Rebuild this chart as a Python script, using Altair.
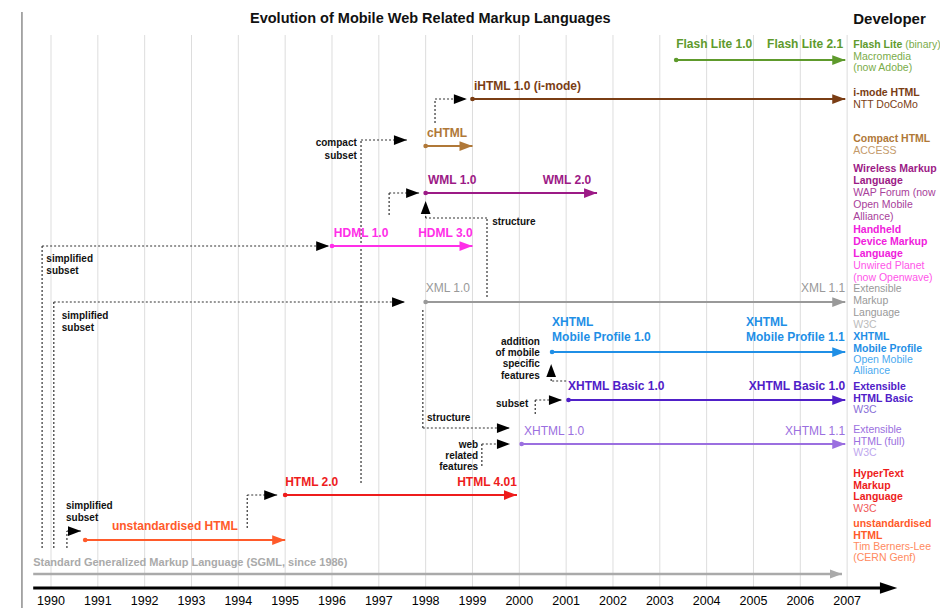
import altair as alt
import pandas as pd

FONT = "Liberation Sans"

# ---------------- data ----------------
YEARS = list(range(1990, 2008))

# main timelines: name, colour, lane, first year, last year (arrow tip), has start dot
SERIES_NAME = ["Flash Lite", "iHTML", "cHTML", "WML", "HDML", "XML", "XHTML MP",
               "XHTML Basic", "XHTML", "HTML", "unstandardised HTML", "SGML"]
SERIES_COLOR = ["#5e9a2c", "#7a3d14", "#b07838", "#9c1a86", "#ff2ee8", "#999999", "#1f8fe6",
                "#5020c8", "#9b6fe0", "#ee1c1c", "#ff5a2a", "#aaaaaa"]
SERIES_LANE = [60, 99, 146, 193, 246, 302, 352, 400, 444, 495, 540, 574]
SERIES_START = [2003.35, 1999.0, 1998.0, 1998.0, 1996.0, 1998.0, 2000.7, 2001.05, 2000.05,
                1995.0, 1990.73, 1989.62]
SERIES_END = [2006.96, 2006.96, 1999.0, 2001.66, 1999.0, 2006.96, 2006.96, 2006.96, 2006.96,
              1999.95, 1995.0, 2006.89]
SERIES_DOT = [True] * 11 + [False]

# version labels: text, year, lane, colour, bold, align
VERSION_LABELS = [
    ("Flash Lite 1.0", 2003.35, 44, "#5e9a2c", True, "left"),
    ("Flash Lite 2.1", 2005.29, 44, "#5e9a2c", True, "left"),
    ("iHTML 1.0 (i-mode)", 1999.03, 86, "#7a3d14", True, "left"),
    ("cHTML", 1998.03, 133, "#b07838", True, "left"),
    ("WML 1.0", 1998.05, 180, "#9c1a86", True, "left"),
    ("WML 2.0", 2000.5, 180, "#9c1a86", True, "left"),
    ("HDML 1.0", 1996.04, 233, "#ff2ee8", True, "left"),
    ("HDML 3.0", 1997.84, 233, "#ff2ee8", True, "left"),
    ("XML 1.0", 1998.0, 288, "#999999", False, "left"),
    ("XML 1.1", 2006.96, 288, "#999999", False, "right"),
    ("XHTML", 2000.7, 322, "#1f8fe6", True, "left"),
    ("Mobile Profile 1.0", 2000.7, 337, "#1f8fe6", True, "left"),
    ("XHTML", 2004.84, 322, "#1f8fe6", True, "left"),
    ("Mobile Profile 1.1", 2004.84, 337, "#1f8fe6", True, "left"),
    ("XHTML Basic 1.0", 2001.04, 386, "#5020c8", True, "left"),
    ("XHTML Basic 1.0", 2006.96, 386, "#5020c8", True, "right"),
    ("XHTML 1.0", 2000.1, 431, "#9b6fe0", False, "left"),
    ("XHTML 1.1", 2006.96, 431, "#9b6fe0", False, "right"),
    ("HTML 2.0", 1995.0, 482, "#ee1c1c", True, "left"),
    ("HTML 4.01", 1999.95, 482, "#ee1c1c", True, "right"),
    ("unstandardised HTML", 1991.3, 526, "#ff5a2a", True, "left"),
]
SGML_LABEL = ("Standard Generalized Markup Language (SGML, since 1986)", 1989.62, 563)

# dotted derivation connectors: (year, lane) -> (year2, lane2)
CONNECTORS = [
    (1989.81, 548, 1989.81, 246), (1989.81, 246, 1995.94, 246),
    (1990.06, 548, 1990.06, 302), (1990.06, 302, 1997.56, 302),
    (1990.34, 548, 1990.34, 531), (1990.34, 531, 1990.64, 531),
    (1994.19, 528, 1994.19, 495), (1994.19, 495, 1994.83, 495),
    (1996.62, 483, 1996.62, 140), (1996.62, 140, 1997.6, 140),
    (1998.2, 123, 1998.2, 99), (1998.2, 99, 1998.88, 99),
    (1997.22, 215, 1997.22, 193), (1997.22, 193, 1997.86, 193),
    (1999.31, 297, 1999.31, 218), (1999.31, 218, 1998.0, 218), (1998.0, 218, 1998.0, 205),
    (1997.94, 310, 1997.94, 428), (1997.94, 428, 1999.8, 428),
    (1999.2, 466, 1999.2, 444), (1999.2, 444, 1999.8, 444),
    (2000.34, 414, 2000.34, 400), (2000.34, 400, 2000.91, 400),
    (2001.0, 381, 2000.68, 381), (2000.68, 381, 2000.68, 368),
]
# connector arrow tips: year, lane, direction
CONNECTOR_TIPS = [
    (1995.94, 246, "right"), (1997.56, 302, "right"), (1990.64, 531, "right"),
    (1994.83, 495, "right"), (1997.6, 140, "right"), (1998.88, 99, "right"),
    (1997.86, 193, "right"), (1998.0, 201, "up"), (1999.8, 428, "right"),
    (1999.8, 444, "right"), (2000.91, 400, "right"), (2000.68, 364, "up"),
]
# connector annotations: text, year, lane, align
CONNECTOR_NOTES = [
    ("compact", 1996.53, 143, "right"), ("subset", 1996.53, 156, "right"),
    ("simplified", 1989.9, 259, "left"), ("subset", 1989.9, 271, "left"),
    ("simplified", 1990.23, 316, "left"), ("subset", 1990.23, 328, "left"),
    ("simplified", 1990.32, 506, "left"), ("subset", 1990.32, 518, "left"),
    ("structure", 1999.42, 222, "left"),
    ("structure", 1998.03, 418, "left"),
    ("web", 1999.12, 445, "right"), ("related", 1999.12, 456, "right"),
    ("features", 1999.12, 467, "right"),
    ("subset", 2000.19, 404, "right"),
    ("addition", 2000.44, 342, "right"), ("of mobile", 2000.44, 353, "right"),
    ("specific", 2000.44, 364, "right"), ("features", 2000.44, 376, "right"),
]

# developer column: text, lane, colour, bold
LEGEND_X = 2007.13
DEV_LINES = [
    ("Flash Lite", 45, "#5e9a2c", True),
    ("Macromedia", 57, "#7aac4a", False), ("(now Adobe)", 68, "#7aac4a", False),
    ("i-mode HTML", 93, "#7a3d14", True), ("NTT DoCoMo", 105, "#7a3d14", False),
    ("Compact HTML", 139, "#b07838", True), ("ACCESS", 151, "#c49a6a", False),
    ("Wireless Markup", 169, "#9c1a86", True), ("Language", 181, "#9c1a86", True),
    ("WAP Forum (now", 193, "#a8409a", False), ("Open Mobile", 205, "#a8409a", False),
    ("Alliance)", 217, "#a8409a", False),
    ("Handheld", 230, "#f020dc", True), ("Device Markup", 242, "#f020dc", True),
    ("Language", 254, "#f020dc", True),
    ("Unwired Planet", 266, "#ff55ea", False), ("(now Openwave)", 278, "#ff55ea", False),
    ("Extensible", 289, "#999999", False), ("Markup", 301, "#999999", False),
    ("Language", 313, "#999999", False), ("W3C", 325, "#bbbbbb", False),
    ("XHTML", 337, "#1f8fe6", True), ("Mobile Profile", 349, "#1f8fe6", True),
    ("Open Mobile", 360, "#4aaaf0", False), ("Alliance", 371, "#4aaaf0", False),
    ("Extensible", 387, "#5020c8", True), ("HTML Basic", 399, "#5020c8", True),
    ("W3C", 410, "#8a70d8", False),
    ("Extensible", 430, "#9b6fe0", False), ("HTML (full)", 442, "#9b6fe0", False),
    ("W3C", 453, "#c0a8ee", False),
    ("HyperText", 474, "#ee1c1c", True), ("Markup", 486, "#ee1c1c", True),
    ("Language", 497, "#ee1c1c", True), ("W3C", 509, "#f05a5a", False),
    ("unstandardised", 524, "#ff5a2a", True), ("HTML", 536, "#ff5a2a", True),
    ("Tim Berners-Lee", 547, "#ff8a60", False), ("(CERN Genf)", 558, "#ff8a60", False),
]
DEV_EXTRA = [("(binary)", 2008.24, 45, "#7aac4a", False)]

TITLE = ("Evolution of Mobile Web Related Markup Languages", 1998.1, 19)
DEV_TITLE = ("Developer", LEGEND_X, 19)

# ---------------- scales / helpers ----------------
XS = alt.Scale(domain=[1989.0818, 2008.983])
YS = alt.Scale(domain=[8, 608], reverse=True)
ARROW_R = "M-2,-0.75L0,0L-2,0.75Z"
ARROW_UP = "M-0.75,2L0,0L0.75,2Z"
AXIS_ARROW = "M-2,-0.65L0,0L-2,0.65Z"


def X(f):
    return alt.X(f, type="quantitative", scale=XS, axis=None)


def Y(f):
    return alt.Y(f, type="quantitative", scale=YS, axis=None)


def texts(df, align, bold):
    enc = dict(x=X("x"), y=Y("y"), text="text:N",
               color=alt.Color("color:N", scale=None),
               size=alt.Size("size:Q", scale=None))
    return alt.Chart(df).mark_text(align=align, baseline="middle", font=FONT,
                                   fontWeight="bold" if bold else "normal").encode(**enc)


layers = []

# grid lines
grid = pd.DataFrame({"x": YEARS, "y": [35] * len(YEARS), "y2": [588] * len(YEARS)})
layers.append(alt.Chart(grid).mark_rule(color="#dddddd", strokeWidth=1).encode(
    x=X("x"), y=Y("y"), y2="y2"))

# left frame line
frame = pd.DataFrame({"x": [1989.38], "y": [12], "y2": [608]})
layers.append(alt.Chart(frame).mark_rule(color="#555555", strokeWidth=1).encode(
    x=X("x"), y=Y("y"), y2="y2"))

# dotted connectors
con = pd.DataFrame(CONNECTORS, columns=["x", "y", "x2", "y2"])
layers.append(alt.Chart(con).mark_rule(color="#333333", strokeWidth=1.2,
                                       strokeDash=[2, 2]).encode(
    x=X("x"), y=Y("y"), x2="x2", y2="y2"))

# series lines
ser = pd.DataFrame({"name": SERIES_NAME, "color": SERIES_COLOR, "y": SERIES_LANE,
                    "x": SERIES_START, "x2": SERIES_END, "dot": SERIES_DOT})
ser["lw"] = [2.0] * 11 + [2.5]
layers.append(alt.Chart(ser).mark_rule().encode(
    x=X("x"), x2="x2", y=Y("y"), color=alt.Color("color:N", scale=None),
    strokeWidth=alt.StrokeWidth("lw:Q", scale=None)))

# start dots
layers.append(alt.Chart(ser[ser["dot"]]).mark_circle(opacity=1, size=22).encode(
    x=X("x"), y=Y("y"), color=alt.Color("color:N", scale=None)))

# arrow heads on series
heads = pd.DataFrame({"x": SERIES_END, "y": SERIES_LANE, "color": SERIES_COLOR,
                      "shape": [ARROW_R] * len(SERIES_END), "size": [169] * 11 + [144]})
# connector tips
tips = pd.DataFrame({"x": [t[0] for t in CONNECTOR_TIPS], "y": [t[1] for t in CONNECTOR_TIPS],
                     "color": ["#000000"] * len(CONNECTOR_TIPS),
                     "shape": [ARROW_R if t[2] == "right" else ARROW_UP for t in CONNECTOR_TIPS],
                     "size": [169] * len(CONNECTOR_TIPS)})
# time axis
axis_line = pd.DataFrame({"x": [1989.62], "x2": [2007.8], "y": [588]})
layers.append(alt.Chart(axis_line).mark_rule(color="#000000", strokeWidth=3).encode(
    x=X("x"), x2="x2", y=Y("y")))
axis_tip = pd.DataFrame({"x": [2008.07], "y": [588], "color": ["#000000"],
                         "shape": [AXIS_ARROW], "size": [300]})
allheads = pd.concat([heads, tips, axis_tip], ignore_index=True)
layers.append(alt.Chart(allheads).mark_point(filled=True, opacity=1, strokeWidth=0).encode(
    x=X("x"), y=Y("y"), color=alt.Color("color:N", scale=None),
    shape=alt.Shape("shape:N", scale=None), size=alt.Size("size:Q", scale=None)))

# version labels
vl = pd.DataFrame(VERSION_LABELS, columns=["text", "x", "y", "color", "bold", "align"])
vl["size"] = 12
for al in ["left", "right"]:
    for b in [True, False]:
        sub = vl[(vl["align"] == al) & (vl["bold"] == b)]
        if not sub.empty:
            layers.append(texts(sub, al, b))

# SGML label
sg = pd.DataFrame({"text": [SGML_LABEL[0]], "x": [SGML_LABEL[1]], "y": [SGML_LABEL[2]],
                   "color": ["#aaaaaa"], "size": [11]})
layers.append(texts(sg, "left", True))

# connector notes
cn = pd.DataFrame(CONNECTOR_NOTES, columns=["text", "x", "y", "align"])
cn["color"] = "#111111"
cn["size"] = 10
for al in ["left", "right"]:
    layers.append(texts(cn[cn["align"] == al], al, True))

# developer column
dv = pd.DataFrame(DEV_LINES, columns=["text", "y", "color", "bold"])
dv["x"] = LEGEND_X
ex = pd.DataFrame(DEV_EXTRA, columns=["text", "x", "y", "color", "bold"])
dv = pd.concat([dv, ex], ignore_index=True)
dv["size"] = 10.5
for b in [True, False]:
    layers.append(texts(dv[dv["bold"] == b], "left", b))

# year labels
yl = pd.DataFrame({"text": [str(y) for y in YEARS], "x": YEARS, "y": [601] * len(YEARS),
                   "color": ["#000000"] * len(YEARS), "size": [12.5] * len(YEARS)})
layers.append(texts(yl, "center", False))

# titles
tt = pd.DataFrame({"text": [TITLE[0]], "x": [TITLE[1]], "y": [TITLE[2]],
                   "color": ["#111111"], "size": [14.5]})
layers.append(texts(tt, "center", True))
dt = pd.DataFrame({"text": [DEV_TITLE[0]], "x": [DEV_TITLE[1]], "y": [DEV_TITLE[2]],
                   "color": ["#111111"], "size": [15]})
layers.append(texts(dt, "left", True))

chart = alt.layer(*layers).properties(
    width=932, height=600, padding=0, autosize="none", background="white"
).configure_view(stroke=None)

chart.save("out.html", embed_options={"renderer": "svg", "actions": False})
